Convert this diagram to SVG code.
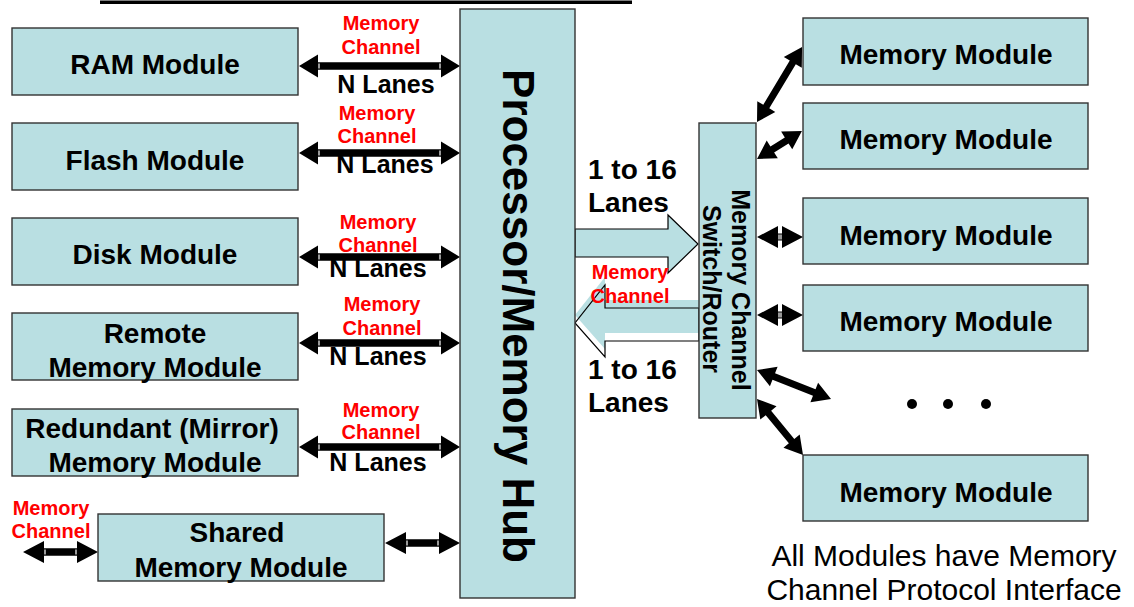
<svg xmlns="http://www.w3.org/2000/svg" width="1134" height="607" viewBox="0 0 1134 607">
<style>
.box{fill:#b9dfe2;stroke:#333;stroke-width:1.4}
.t{font-family:"Liberation Sans",Arial,sans-serif;font-weight:bold;font-size:28px;fill:#000;text-anchor:middle}
.red{font-family:"Liberation Sans",Arial,sans-serif;font-weight:bold;font-size:20px;fill:#ff0000;text-anchor:middle}
.nl{font-family:"Liberation Sans",Arial,sans-serif;font-weight:bold;font-size:25px;fill:#000;text-anchor:middle}
.ln{font-family:"Liberation Sans",Arial,sans-serif;font-weight:bold;font-size:28px;fill:#000}
.note{font-family:"Liberation Sans",Arial,sans-serif;font-size:30px;fill:#000;text-anchor:middle}
.arr{fill:#000}
.gap{stroke:#fff;stroke-width:1.2}
.blk{fill:#b9dfe2}
.blko{fill:none;stroke:#000;stroke-width:1.2}
</style>
<defs>
<path id="la" d="M0,0 L19,-11.5 L19,-3.7 L142,-3.7 L142,-11.5 L161,0 L142,11.5 L142,3.7 L19,3.7 L19,11.5Z"/>
<path id="sa" d="M0,0 L21,-11 L21,-3.7 L54,-3.7 L54,-11 L75,0 L54,11 L54,3.7 L21,3.7 L21,11Z"/>
<path id="ha" d="M0,0 L21,-11 L21,-3.5 L25,-3.5 L25,-11 L46,0 L25,11 L25,3.5 L21,3.5 L21,11Z"/>
</defs>

<rect x="100" y="0.5" width="532" height="3.5" fill="#000"/>

<g id="connectors">
  <g class="arr">
    <use href="#la" x="299" y="66"/>
    <use href="#la" x="299" y="153"/>
    <use href="#la" x="299" y="257"/>
    <use href="#la" x="299" y="343"/>
    <use href="#la" x="299" y="447"/>
    <use href="#sa" x="385" y="543"/>
    <use href="#sa" x="23" y="552"/>
    <path transform="translate(757,122) rotate(-59)" d="M0,0 L18,-10.5 L18,-3.5 L69.5,-3.5 L69.5,-10.5 L87.5,0 L69.5,10.5 L69.5,3.5 L18,3.5 L18,10.5Z"/>
    <path transform="translate(757,159) rotate(-32)" d="M0,0 L18,-10.5 L18,-3.5 L35,-3.5 L35,-10.5 L53,0 L35,10.5 L35,3.5 L18,3.5 L18,10.5Z"/>
    <use href="#ha" x="757" y="237"/>
    <use href="#ha" x="757" y="315"/>
    <path transform="translate(757,370) rotate(21.4)" d="M0,0 L18,-10.5 L18,-3.5 L61.5,-3.5 L61.5,-10.5 L79.5,0 L61.5,10.5 L61.5,3.5 L18,3.5 L18,10.5Z"/>
    <path transform="translate(757,399) rotate(50.6)" d="M0,0 L18,-10.5 L18,-3.5 L54.5,-3.5 L54.5,-10.5 L72.5,0 L54.5,10.5 L54.5,3.5 L18,3.5 L18,10.5Z"/>
  </g>
  <g class="gap">
    <path d="M319,63.5v5 M440,63.5v5 M319,150.5v5 M440,150.5v5 M319,254.5v5 M440,254.5v5 M319,340.5v5 M440,340.5v5 M319,444.5v5 M440,444.5v5 M407,540.5v5 M438,540.5v5 M45,549.5v5 M76,549.5v5"/>
    <path d="M779,234.5v5 M781,234.5v5 M779,312.5v5 M781,312.5v5"/>
  </g>
  <g id="block-arrows">
    <polygon class="blk" points="575,229 668,229 668,215 698,244 668,273 668,257 575,257"/>
    <polygon class="blko" points="575,229 668,229 668,215 698,244 668,273 668,257 575,257"/>
    <polygon class="blk" points="699,300 605,300 605,277 575,315 605,349 605,333 699,333"/>
    <polygon class="blko" points="699,308 605,308 605,285 575,323 605,357 605,341 699,341"/>
  </g>
</g>

<g id="ram"><rect class="box" x="12" y="28" width="286" height="67"/><text class="t" x="155" y="74">RAM Module</text></g>
<g id="flash"><rect class="box" x="12" y="123" width="286" height="67"/><text class="t" x="155" y="170">Flash Module</text></g>
<g id="disk"><rect class="box" x="12" y="218" width="286" height="67"/><text class="t" x="155" y="264">Disk Module</text></g>
<g id="remote"><rect class="box" x="12" y="313" width="286" height="67"/><text class="t" x="155" y="343">Remote</text><text class="t" x="155" y="377">Memory Module</text></g>
<g id="redundant"><rect class="box" x="12" y="409" width="286" height="67"/><text class="t" x="152" y="438">Redundant (Mirror)</text><text class="t" x="155" y="472">Memory Module</text></g>
<g id="shared"><rect class="box" x="98" y="514" width="286" height="67"/><text class="t" x="237" y="542">Shared</text><text class="t" x="241" y="577">Memory Module</text></g>

<g id="hub"><rect class="box" x="460" y="9" width="115" height="589"/><text class="t" style="font-size:44px" transform="translate(503,316) rotate(90)">Processor/Memory Hub</text></g>

<g id="switch"><rect class="box" x="699" y="123" width="57" height="295"/>
<text class="t" style="font-size:25px" transform="translate(732,290) rotate(90)">Memory Channel</text>
<text class="t" style="font-size:25px" transform="translate(703,289) rotate(90)">Switch/Router</text></g>

<g id="mm1"><rect class="box" x="803" y="18" width="285" height="67"/><text class="t" x="946" y="64">Memory Module</text></g>
<g id="mm2"><rect class="box" x="803" y="103" width="285" height="66"/><text class="t" x="946" y="149">Memory Module</text></g>
<g id="mm3"><rect class="box" x="803" y="198" width="285" height="66"/><text class="t" x="946" y="245">Memory Module</text></g>
<g id="mm4"><rect class="box" x="803" y="285" width="285" height="66"/><text class="t" x="946" y="331">Memory Module</text></g>
<g id="mm5"><rect class="box" x="803" y="455" width="285" height="66"/><text class="t" x="946" y="502">Memory Module</text></g>

<g id="dots" fill="#000"><circle cx="912" cy="404" r="5"/><circle cx="948" cy="404" r="5"/><circle cx="986" cy="404" r="5"/></g>

<g id="labels">
<text class="red" x="381" y="30">Memory</text><text class="red" x="381" y="54">Channel</text><text class="nl" x="386" y="93">N Lanes</text>
<text class="red" x="377" y="120">Memory</text><text class="red" x="377" y="143">Channel</text><text class="nl" x="385" y="173">N Lanes</text>
<text class="red" x="378" y="229">Memory</text><text class="red" x="378" y="252">Channel</text><text class="nl" x="378" y="277">N Lanes</text>
<text class="red" x="382" y="311">Memory</text><text class="red" x="382" y="335">Channel</text><text class="nl" x="378" y="365">N Lanes</text>
<text class="red" x="381" y="417">Memory</text><text class="red" x="381" y="439">Channel</text><text class="nl" x="378" y="471">N Lanes</text>
<text class="red" x="51" y="515">Memory</text><text class="red" x="51" y="538">Channel</text>
<text class="ln" x="588" y="179">1 to 16</text><text class="ln" x="588" y="212">Lanes</text>
<text class="red" x="630" y="279">Memory</text><text class="red" x="630" y="303">Channel</text>
<text class="ln" x="588" y="379">1 to 16</text><text class="ln" x="588" y="412">Lanes</text>
<text class="note" x="944" y="566">All Modules have Memory</text>
<text class="note" x="944" y="600">Channel Protocol Interface</text>
</g>
</svg>
